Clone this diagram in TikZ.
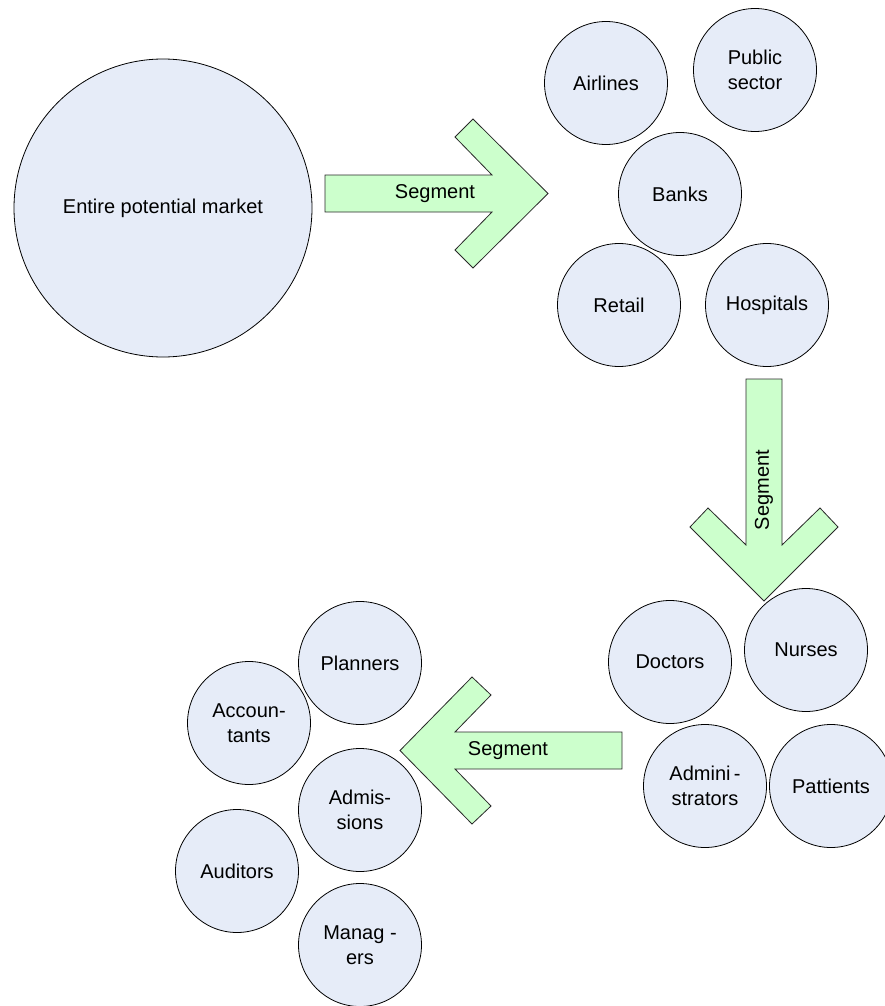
\documentclass[tikz,border=0pt]{standalone}
\usepackage{fontspec}
\setmainfont{Liberation Sans}
\definecolor{segfill}{RGB}{230,236,248}
\definecolor{arrowfill}{RGB}{204,255,204}
\definecolor{arrowline}{RGB}{40,40,40}
\begin{document}
\begin{tikzpicture}[x=1pt,y=-1pt,
  seg/.style={circle,draw=black,line width=0.8pt,fill=segfill,
    minimum size=123pt,inner sep=0pt,align=center,
    font=\fontsize{20}{25}\selectfont},
  bigseg/.style={seg,minimum size=298pt},
  blockarrow/.style={draw=arrowline,line width=0.8pt,fill=arrowfill,line join=miter},
  arrowlabel/.style={inner sep=0pt,font=\fontsize{20}{25}\selectfont}]
\useasboundingbox (0,0) rectangle (885,1006);
\clip (0,0) rectangle (885,1006);

% whole market
\node[bigseg] (market) at (163,208) {Entire potential market};

% first segmentation: industries
\node[seg] (airlines) at (606,83) {Airlines};
\node[seg] (public) at (755,70) {Public\\sector};
\node[seg] (banks) at (680,194) {Banks};
\node[seg] (retail) at (619,305) {Retail};
\node[seg] (hospitals) at (767,305) {Hospitals};

% second segmentation: hospital staff
\node[seg] (doctors) at (670,662) {Doctors};
\node[seg] (nurses) at (806,650) {Nurses};
\node[seg] (admins) at (705,786) {Admini\,-\\strators};
\node[seg] (patients) at (831,786) {Pattients};

% third segmentation: administrators
\node[seg] (planners) at (360,663) {Planners};
\node[seg] (accountants) at (249,723) {Accoun-\\tants};
\node[seg] (admissions) at (360,810) {Admis-\\sions};
\node[seg] (auditors) at (237,871) {Auditors};
\node[seg] (managers) at (360,945) {Manag -\\ers};

% block arrows
\draw[blockarrow] (325,175) -- (492,175) -- (455,137) -- (473,119) -- (548,193.5)
  -- (473,268) -- (455,250) -- (492,212) -- (325,212) -- cycle;
\node[arrowlabel] (seg1) at (435,193.5) {Segment};

\draw[blockarrow] (746,379) -- (746,545) -- (708,508) -- (690,527) -- (764,601)
  -- (838,527) -- (820,508) -- (782,545) -- (782,379) -- cycle;
\node[arrowlabel,rotate=90] (seg2) at (764,490) {Segment};

\draw[blockarrow] (622,732) -- (455,732) -- (491,695) -- (472,677) -- (400,750.5)
  -- (472,824) -- (491,806) -- (455,769) -- (622,769) -- cycle;
\node[arrowlabel] (seg3) at (508,751) {Segment};
\end{tikzpicture}
\end{document}
